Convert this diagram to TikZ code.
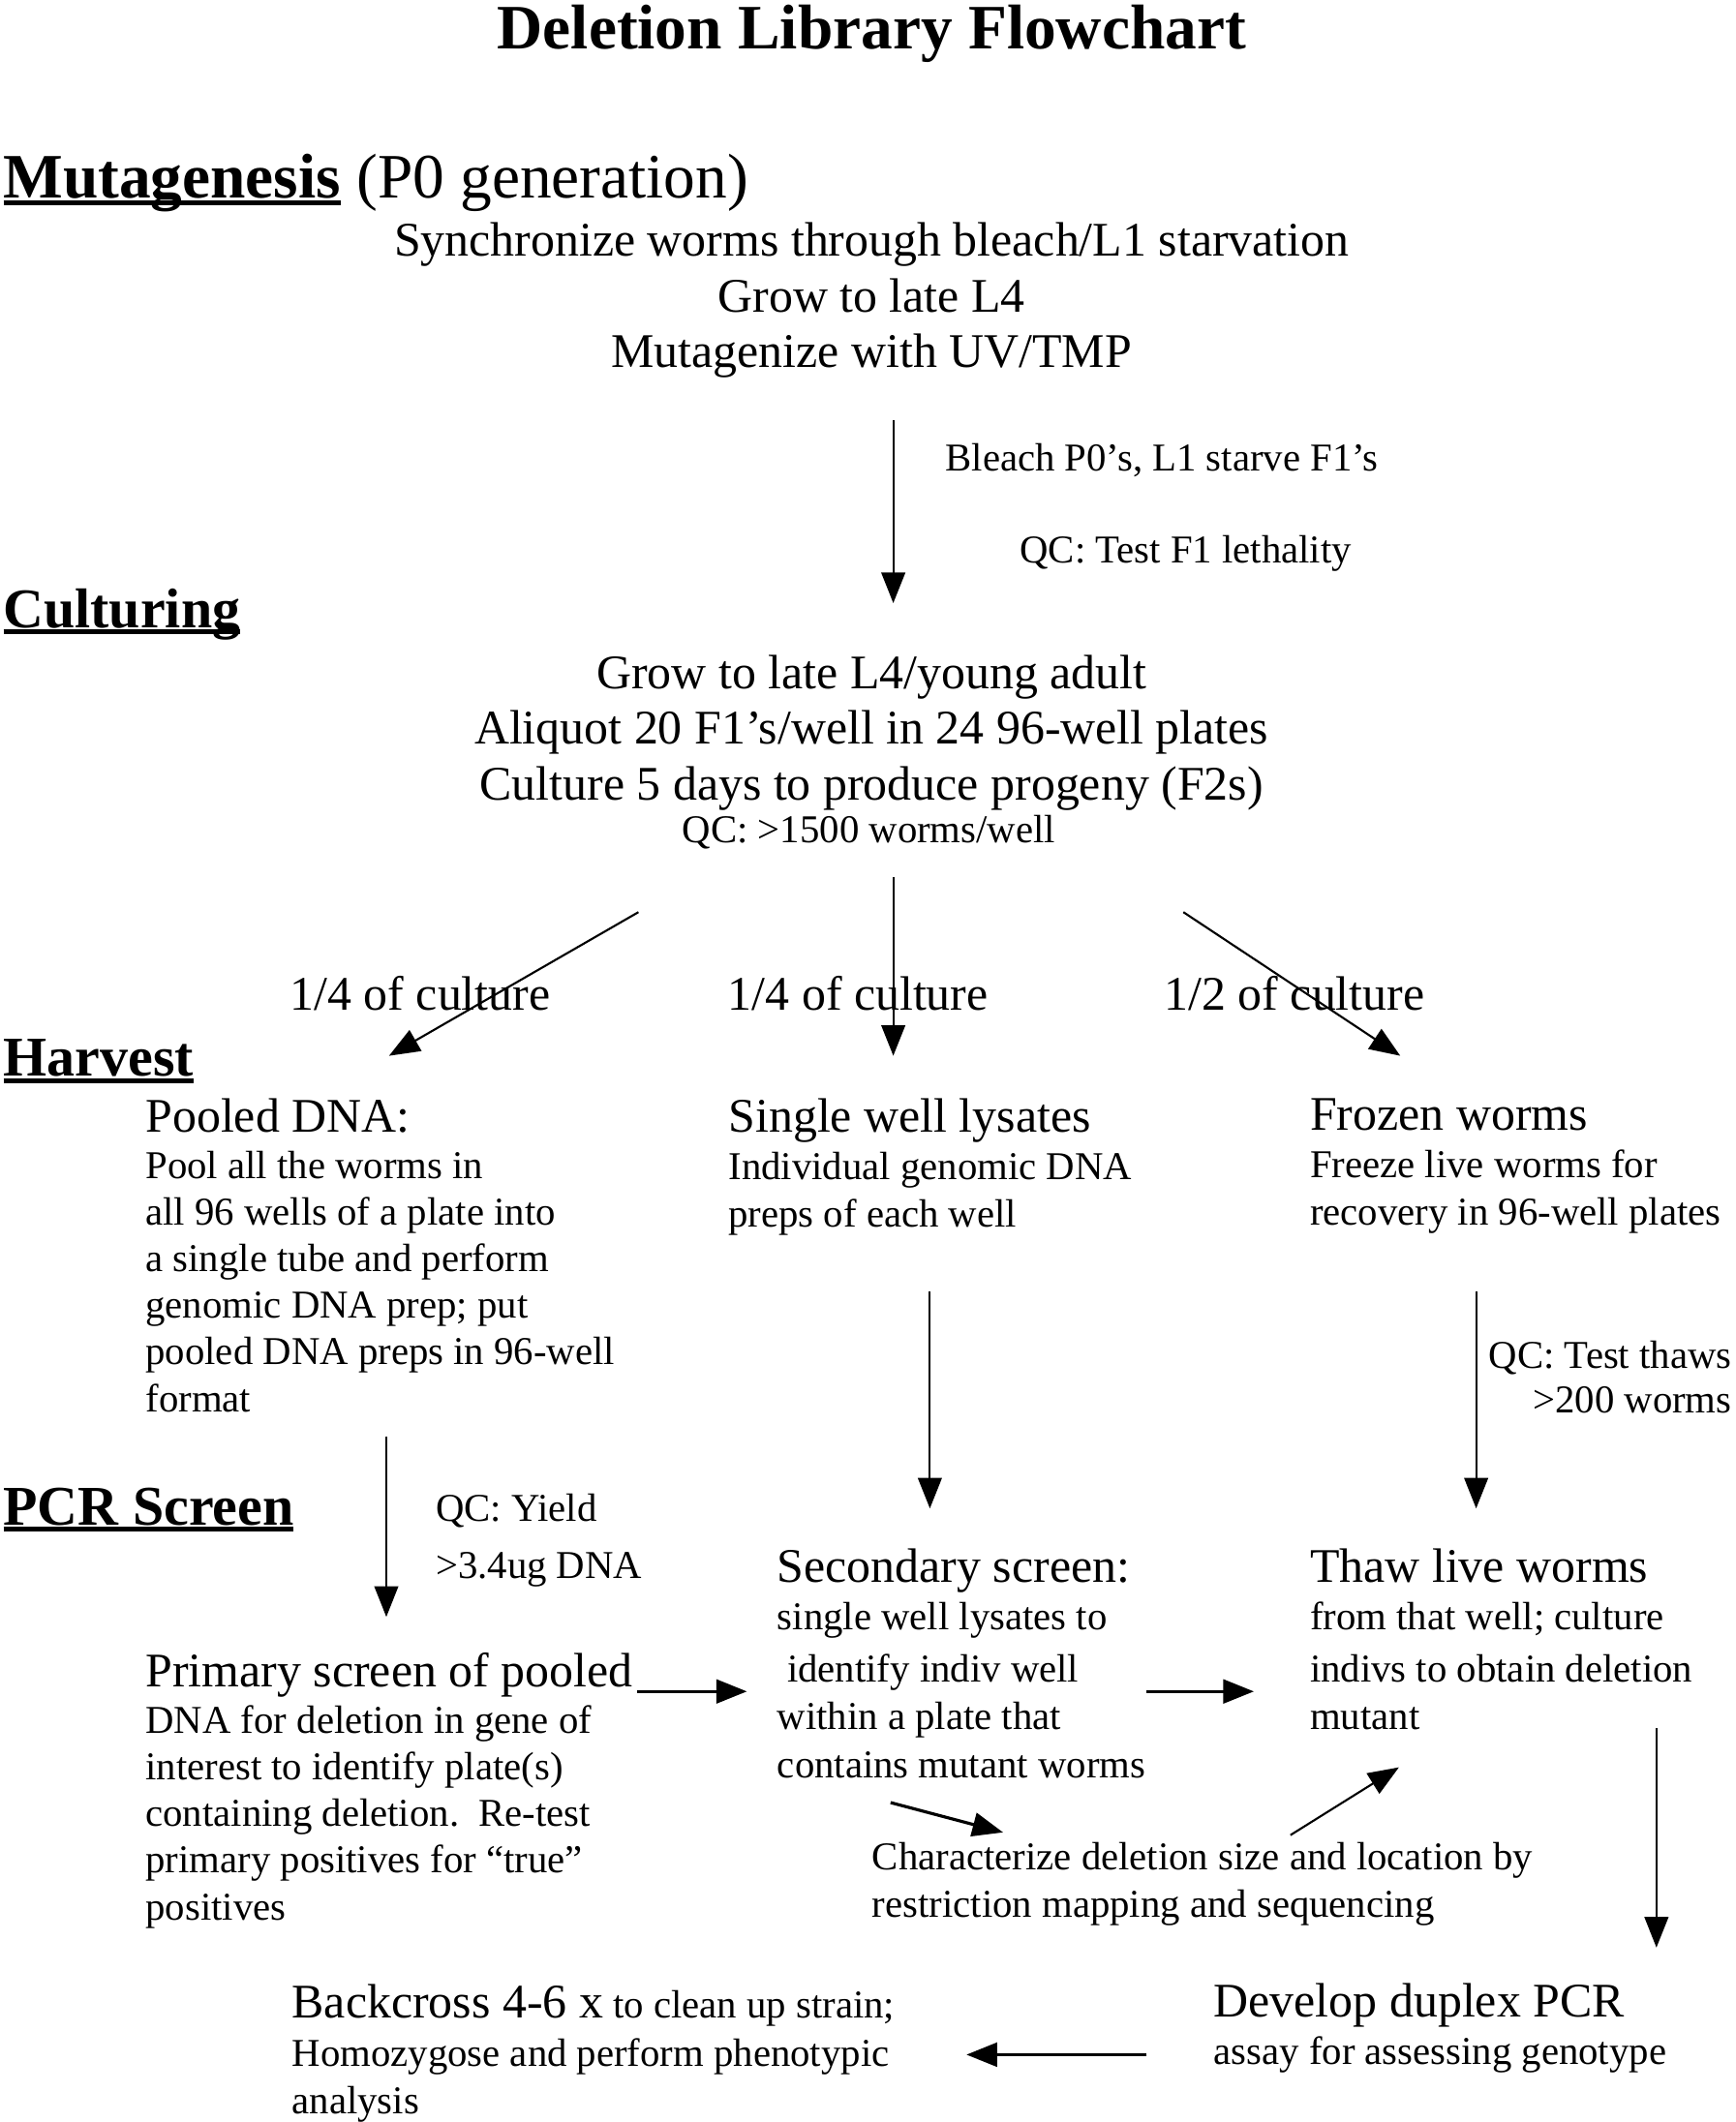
\documentclass[tikz,border=0pt]{standalone}
\usepackage{fontspec}
\setmainfont{Liberation Serif}
\usetikzlibrary{arrows.meta}

\newcommand{\sectul}[1]{\setbox0\hbox{#1}\rlap{\rule[-0.12em]{\wd0}{0.085em}}#1}
\newcommand{\leadfont}{\fontsize{14.2}{14}\selectfont}

\begin{document}
\begin{tikzpicture}[x=0.014cm, y=-0.014cm,
  head/.style={font=\fontsize{16.5}{20}\selectfont\bfseries, inner sep=0pt, anchor=base west},
  txt/.style={font=\fontsize{11.6}{14}\selectfont, inner sep=0pt, anchor=north west, align=left},
  bigtxt/.style={font=\fontsize{14.2}{16.3}\selectfont, inner sep=0pt, anchor=north, align=center},
  share/.style={font=\fontsize{14.2}{16}\selectfont, inner sep=0pt, anchor=base},
  arr/.style={-{Triangle[length=9pt,width=7pt]}, line width=0.6pt}]
\useasboundingbox (0,0) rectangle (1280,1565.7);

% title and section heads
\node [font=\fontsize{18.6}{22}\selectfont\bfseries, inner sep=0pt, anchor=base] (title) at (643,36) {Deletion Library Flowchart};
\node [head, font=\fontsize{18.6}{22}\selectfont\bfseries] (mutag) at (2,146) {\sectul{Mutagenesis} {\mdseries (P0 generation)}};
\node [head] (cultur) at (2,463) {\sectul{Culturing}};
\node [head] (harvest) at (2,794) {\sectul{Harvest}};
\node [head] (pcr) at (2,1125) {\sectul{PCR Screen}};

% mutagenesis
\node [bigtxt] (synch) at (643,164) {Synchronize worms through bleach/L1 starvation\\Grow to late L4\\Mutagenize with UV/TMP};
\coordinate (m1) at (659,310);
\coordinate (m2) at (659,445);
\draw[arr] (m1) -- (m2);
\node [txt] (bleach) at (697,327) {Bleach P0’s, L1 starve F1’s};
\node [txt] (qcleth) at (752,395) {QC: Test F1 lethality};

% culturing
\node [bigtxt] (grow) at (643,483) {Grow to late L4/young adult\\Aliquot 20 F1’s/well in 24 96-well plates\\Culture 5 days to produce progeny (F2s)};
\node [font=\fontsize{11.6}{14}\selectfont, inner sep=0pt, anchor=base] (qcwell) at (641,622) {QC: >1500 worms/well};
\coordinate (c1) at (471,673);
\coordinate (c2) at (287,779);
\coordinate (c3) at (659,647);
\coordinate (c4) at (659,779);
\coordinate (c5) at (873,673);
\coordinate (c6) at (1033,779);
\draw[arr] (c1) -- (c2);
\draw[arr] (c3) -- (c4);
\draw[arr] (c5) -- (c6);
\node [share] (quart1) at (310,745) {1/4 of culture};
\node [share] (quart2) at (633,745) {1/4 of culture};
\node [share] (half) at (955,745) {1/2 of culture};

% harvest
\node [txt, font=\fontsize{11.6}{13.7}\selectfont] (pooled) at (107,810) {{\leadfont Pooled DNA:}\\Pool all the worms in\\all 96 wells of a plate into\\a single tube and perform\\genomic DNA prep; put\\pooled DNA preps in 96-well\\format};
\node [txt] (single) at (537,810) {{\leadfont Single well lysates}\\Individual genomic DNA\\preps of each well};
\node [txt] (frozen) at (966,810) {{\leadfont Frozen worms}\\Freeze live worms for\\recovery in 96-well plates};
\coordinate (h1) at (686,953);
\coordinate (h2) at (686,1113);
\coordinate (h3) at (1089,953);
\coordinate (h4) at (1089,1113);
\draw[arr] (h1) -- (h2);
\draw[arr] (h3) -- (h4);
\node [txt, font=\fontsize{11.6}{13}\selectfont, anchor=north east, align=right] (qcthaw) at (1278,989) {QC: Test thaws\\>200 worms};

% pcr screen
\coordinate (p1) at (285,1060);
\coordinate (p2) at (285,1193);
\draw[arr] (p1) -- (p2);
\node [txt] (qcyield) at (321,1102) {QC: Yield\\[2.7pt]>3.4ug DNA};
\node [txt] (second) at (573,1142) {{\leadfont Secondary screen:}\\single well lysates to\\[1.5pt]\ identify indiv well\\within a plate that\\contains mutant worms};
\node [txt] (thaw) at (966,1142) {{\leadfont Thaw live worms}\\from that well; culture\\[1.5pt]indivs to obtain deletion\\mutant};
\node [txt, font=\fontsize{11.6}{13.7}\selectfont] (primary) at (107,1219) {{\leadfont Primary screen of pooled}\\DNA for deletion in gene of\\interest to identify plate(s)\\containing deletion.\ \ Re-test\\primary positives for “true”\\positives};
\coordinate (s1) at (470,1248);
\coordinate (s2) at (551,1248);
\coordinate (s3) at (846,1248);
\coordinate (s4) at (925,1248);
\draw[arr, line width=0.9pt] (s1) -- (s2);
\draw[arr, line width=0.9pt] (s3) -- (s4);
\node [txt, font=\fontsize{11.6}{13.8}\selectfont] (charac) at (643,1359) {Characterize deletion size and location by\\restriction mapping and sequencing};
\coordinate (k1) at (657,1330);
\coordinate (k2) at (740,1352);
\coordinate (k3) at (952,1354);
\coordinate (k4) at (1032,1304);
\draw[arr, line width=0.9pt] (k1) -- (k2);
\draw[arr] (k3) -- (k4);
\coordinate (d1) at (1222,1275);
\coordinate (d2) at (1222,1437);
\draw[arr] (d1) -- (d2);
\node [txt] (duplex) at (895,1463) {{\leadfont Develop duplex PCR}\\assay for assessing genotype};
\coordinate (b1) at (846,1516);
\coordinate (b2) at (713,1516);
\draw[arr, line width=0.9pt] (b1) -- (b2);
\node [txt] (backx) at (215,1464) {{\leadfont Backcross 4-6 x} to clean up strain;\\Homozygose and perform phenotypic\\analysis};
\end{tikzpicture}
\end{document}
